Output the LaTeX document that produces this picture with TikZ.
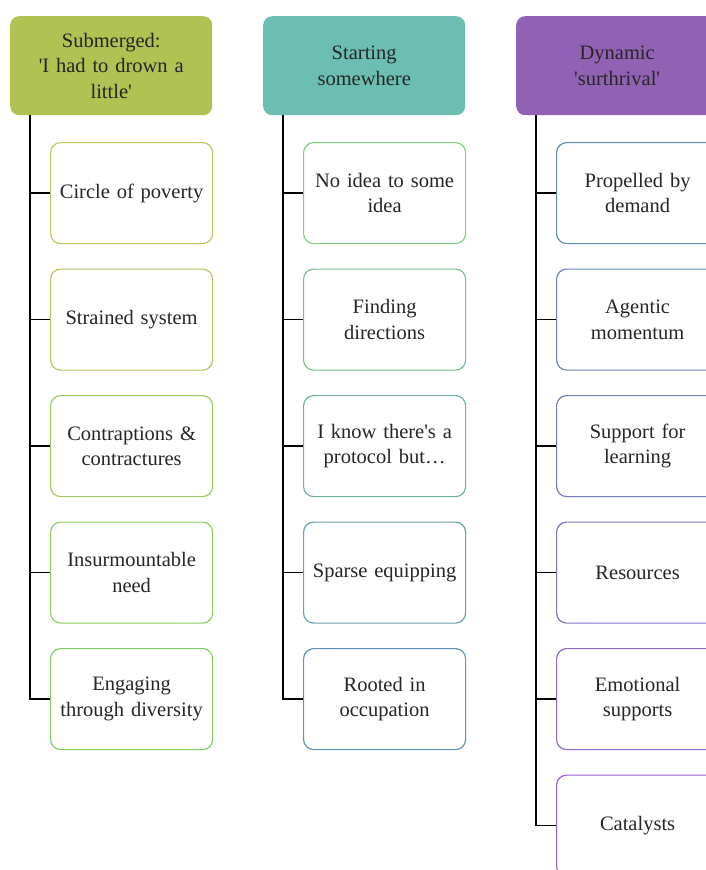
\documentclass[tikz,border=0pt]{standalone}
\usepackage{fontspec}
\setmainfont{Liberation Serif}
\usetikzlibrary{positioning}

\definecolor{headA}{RGB}{175,194,82}
\definecolor{headB}{RGB}{108,190,178}
\definecolor{headC}{RGB}{145,98,180}
\definecolor{txt}{RGB}{38,38,38}
\definecolor{lineA1}{RGB}{186,202,94}
\definecolor{lineA2}{RGB}{126,207,96}
\definecolor{lineB1}{RGB}{128,206,134}
\definecolor{lineB2}{RGB}{96,146,184}
\definecolor{lineC1}{RGB}{92,142,186}
\definecolor{lineC2}{RGB}{156,94,204}

\tikzset{
  head/.style={fill=#1, rounded corners=9pt, minimum width=202pt, minimum height=99pt,
    text width=190pt, align=center, inner sep=0pt, anchor=north west,
    text=txt, font=\fontsize{20.5}{25.5}\selectfont},
  item/.style={draw=#1, line width=1.2pt, fill=white, rounded corners=10pt,
    minimum width=162pt, minimum height=101pt, text width=156pt, align=center,
    inner sep=0pt, anchor=north west, text=txt, font=\fontsize{20.5}{25.5}\selectfont},
  stem/.style={line width=1.6pt, black}
}

\begin{document}
\begin{tikzpicture}[x=1pt,y=-1pt]
    \useasboundingbox (0,0) rectangle (706,870);
    \clip (0,0) rectangle (706,870);
    % header boxes
    \node[head=headA] (h1) at (10,16) {Submerged:\\\textquotesingle I had to drown a\\little\textquotesingle};
    \node[head=headB] (h2) at (263,16) {Starting\\somewhere};
    \node[head=headC] (h3) at (516,16) {Dynamic\\\textquotesingle surthrival\textquotesingle};
    % stem start points
    \coordinate (s1) at (30,115);
    \coordinate (s2) at (283,115);
    \coordinate (s3) at (536,115);
    % first column
    \foreach \t [count=\i] in {{Circle of poverty}, {Strained system},
        {Contraptions \&\\contractures}, {Insurmountable\\need},
        {Engaging\\through diversity}} {
        \pgfmathsetmacro\pct{100-(\i-1)*25}
        \node[item=lineA1!\pct!lineA2] (a\i) at (50,{142+(\i-1)*126.5}) {\t};
        \draw[stem] (s1) |- (a\i.west);
    }
    % second column
    \foreach \t [count=\i] in {{No idea to some\\idea}, {Finding\\directions},
        {I know there\textquotesingle s a\\protocol but\ldots}, {Sparse equipping},
        {Rooted in\\occupation}} {
        \pgfmathsetmacro\pct{100-(\i-1)*25}
        \node[item=lineB1!\pct!lineB2] (b\i) at (303,{142+(\i-1)*126.5}) {\t};
        \draw[stem] (s2) |- (b\i.west);
    }
    % third column
    \foreach \t [count=\i] in {{Propelled by\\demand}, {Agentic\\momentum},
        {Support for\\learning}, {Resources}, {Emotional\\supports}, {Catalysts}} {
        \pgfmathsetmacro\pct{100-(\i-1)*20}
        \node[item=lineC1!\pct!lineC2] (c\i) at (556,{142+(\i-1)*126.5}) {\t};
        \draw[stem] (s3) |- (c\i.west);
    }
\end{tikzpicture}
\end{document}
